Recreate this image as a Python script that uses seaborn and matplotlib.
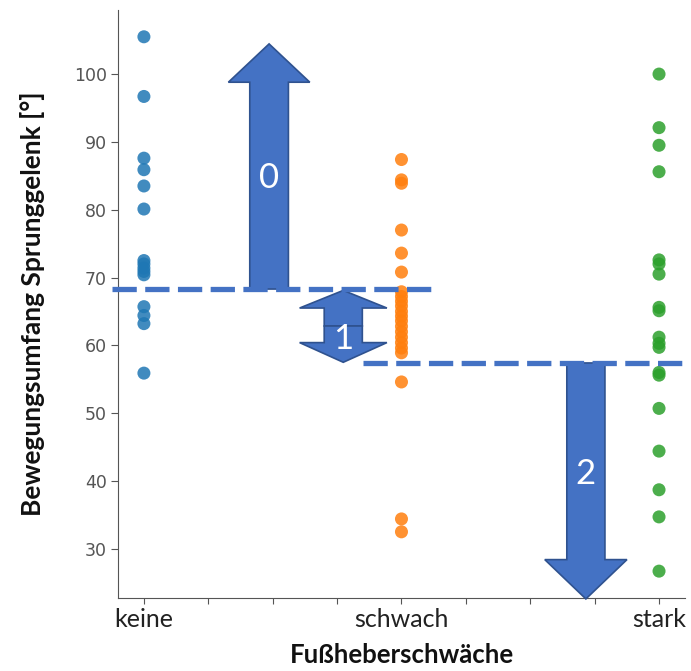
import numpy as np
import pandas as pd
import matplotlib
matplotlib.use("Agg")
import matplotlib.pyplot as plt
from matplotlib.patches import FancyArrow
import seaborn as sns

# groups on the x axis
groups = ["keine", "schwach", "stark"]
group_pos = [0, 1, 2]

# range of motion per group
keine = [105.5, 96.7, 87.6, 85.9, 83.5, 80.1, 72.5, 72.0, 71.4, 70.9, 70.4,
         65.7, 64.4, 63.2, 55.9]
schwach = [87.4, 84.4, 83.9, 77.0, 73.6, 70.8, 67.9, 67.2, 66.5, 65.8, 65.0,
           64.3, 63.6, 62.8, 62.0, 61.2, 60.4, 59.6, 58.9, 54.6, 34.4, 32.5]
stark = [100.0, 92.1, 89.5, 85.6, 72.6, 72.0, 70.5, 65.6, 65.1, 61.2, 60.3,
         59.7, 56.0, 55.6, 50.7, 44.4, 38.7, 34.7, 26.7]

# levels of the dashed lines and the arrows drawn over the plot
level_keine = 68.3
level_rest = 57.4
arrow0_top = 104.45
arrow2_bottom = 22.6
arrow_x = [0.486, 0.774, 1.716]
arrow_labels = ["0", "1", "2"]

xticks = np.arange(0, 2.01, 0.25)
xticklabels = ["keine", "", "", "", "schwach", "", "", "", "stark"]

ARROW_FILL = "#4472C4"
ARROW_EDGE = "#2F528F"


def makeFrame():
    rows = []
    for name, pos, vals in zip(groups, group_pos, [keine, schwach, stark]):
        for v in vals:
            rows.append({"grp": name, "x": pos, "y": v})
    return pd.DataFrame(rows)


def addArrow(ax, x, y0, y1, head_len, shaft_w=0.150, head_w=0.316):
    ar = FancyArrow(x, y0, 0, y1 - y0, width=shaft_w, head_width=head_w,
                    head_length=head_len, length_includes_head=True,
                    facecolor=ARROW_FILL, edgecolor=ARROW_EDGE, linewidth=1.2,
                    zorder=4, clip_on=False)
    ax.add_patch(ar)


def plotChart(data):
    sns.set_style("ticks")
    plt.rcParams["font.family"] = ["DejaVu Sans"]
    fig, ax = plt.subplots(figsize=(6.91, 6.71), dpi=100)
    fig.subplots_adjust(left=0.171, right=0.991, bottom=0.109, top=0.985)

    sns.scatterplot(data=data, x="x", y="y", hue="grp",
                    palette=sns.color_palette("tab10", 3), s=88,
                    linewidth=0, alpha=0.85, legend=False, ax=ax, zorder=3)

    # same limits as matplotlib's default 5% margins around the points
    allv = keine + schwach + stark
    span = max(allv) - min(allv)
    ax.set_xlim(-0.1, 2.1)
    ax.set_ylim(min(allv) - 0.05 * span, max(allv) + 0.05 * span)

    # dashed level lines
    dash = dict(color=ARROW_FILL, linewidth=3.8, dashes=(4.6, 1.6), zorder=5,
                clip_on=False)
    ax.plot([-0.125, 1.113], [level_keine, level_keine], **dash)
    ax.plot([0.852, 2.1], [level_rest, level_rest], **dash)

    # arrow 0: up from the keine level
    addArrow(ax, arrow_x[0], level_keine, arrow0_top, 5.65)
    # arrow 1: double headed between both levels
    mid = (level_keine + level_rest) / 2
    addArrow(ax, arrow_x[1], mid, level_keine - 0.2, 2.6, 0.148, 0.339)
    addArrow(ax, arrow_x[1], mid, level_rest + 0.1, 2.9, 0.148, 0.339)
    # arrow 2: down from the lower level
    addArrow(ax, arrow_x[2], level_rest, arrow2_bottom, 5.8, 0.148, 0.319)

    label_y = [84.7, 61.0, 41.0]
    for x, y, t in zip(arrow_x, label_y, arrow_labels):
        ax.text(x, y, t, color="white", fontsize=25, family="Lato",
                ha="center", va="center", zorder=6)

    ax.set_xticks(xticks)
    ax.set_xticklabels(xticklabels, family="Lato", fontsize=18, color="#222222")
    ax.set_yticks(np.arange(30, 101, 10))
    ax.tick_params(axis="y", labelsize=12.5, colors="#555555", length=5, pad=3)
    ax.tick_params(axis="x", length=4, colors="#555555", pad=3)
    for lab in ax.get_xticklabels():
        lab.set_color("#222222")

    ax.set_xlabel("Fußheberschwäche", family="Lato", fontweight="bold",
                  fontsize=18.5, color="#111111", labelpad=9)
    ax.set_ylabel("Bewegungsumfang Sprunggelenk [°]", family="Lato",
                  fontweight="bold", fontsize=19, color="#111111", labelpad=21)

    for s in ["left", "bottom"]:
        ax.spines[s].set_color("#555555")
    sns.despine(ax=ax)
    plt.savefig("out.png", dpi=100)


if __name__ == "__main__":
    df = makeFrame()
    plotChart(df)
